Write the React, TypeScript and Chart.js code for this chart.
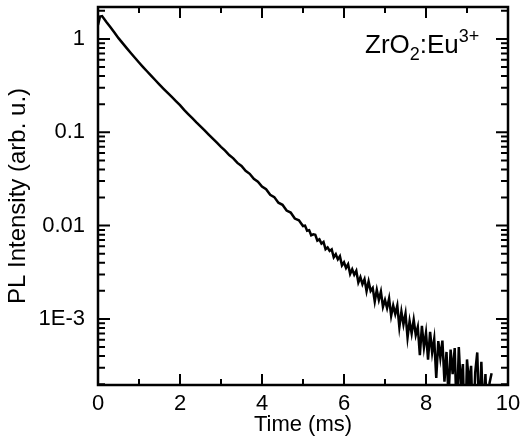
import React, { useEffect, useRef } from "react";
import { Chart, registerables } from "chart.js";

Chart.register(...registerables);

// ---- data ----
const timeMs = [
  0, 0.05, 0.1, 0.2, 0.3, 0.4, 0.5, 0.6, 0.7, 0.8,
  0.9, 1.0, 1.1, 1.2, 1.3, 1.4, 1.5, 1.6, 1.7, 1.8,
  1.9, 2.0, 2.1, 2.2, 2.3, 2.4, 2.5, 2.6, 2.7, 2.8,
  2.9, 3.0, 3.1, 3.2, 3.3, 3.4, 3.5, 3.6, 3.7, 3.8,
  3.9, 4.0, 4.1, 4.2, 4.3, 4.4, 4.5, 4.6, 4.7, 4.8,
  4.9, 5.0, 5.05, 5.1, 5.15, 5.2, 5.25, 5.3, 5.35, 5.4,
  5.45, 5.5, 5.55, 5.6, 5.65, 5.7, 5.75, 5.8, 5.85, 5.9,
  5.95, 6.0, 6.05, 6.1, 6.15, 6.2, 6.25, 6.3, 6.35, 6.4,
  6.45, 6.5, 6.55, 6.6, 6.65, 6.7, 6.75, 6.8, 6.85, 6.9,
  6.95, 7.0, 7.05, 7.1, 7.15, 7.2, 7.25, 7.3, 7.35, 7.4,
  7.45, 7.5, 7.55, 7.6, 7.65, 7.7, 7.75, 7.8, 7.85, 7.9,
  7.95, 8.0, 8.05, 8.1, 8.15, 8.2, 8.25, 8.3, 8.35, 8.4,
  8.45, 8.5, 8.55, 8.6, 8.65, 8.7, 8.75, 8.8, 8.85, 8.9,
  8.95, 9.0, 9.05, 9.1, 9.15, 9.2, 9.25, 9.3, 9.35, 9.4,
  9.45, 9.5, 9.55, 9.6,
];

const plIntensity = [
  1.41, 1.74, 1.76, 1.53, 1.34, 1.17, 1.02, 0.902, 0.797, 0.707,
  0.629, 0.560, 0.500, 0.448, 0.402, 0.361, 0.324, 0.292, 0.264, 0.239,
  0.216, 0.195, 0.174, 0.157, 0.142, 0.128, 0.116, 0.105, 0.0946, 0.0855,
  0.0773, 0.0698, 0.0637, 0.0571, 0.0526, 0.0470, 0.0435, 0.0386, 0.0359, 0.0317,
  0.0296, 0.0262, 0.0245, 0.0214, 0.0202, 0.0176, 0.0167, 0.0145, 0.0138, 0.0119,
  0.0114, 0.0099, 0.0100, 0.00883, 0.00894, 0.00787, 0.00806, 0.00798, 0.00690, 0.00712,
  0.00641, 0.00668, 0.00559, 0.00585, 0.00536, 0.00557, 0.00458, 0.00494, 0.00435, 0.00471,
  0.00375, 0.00405, 0.00352, 0.00386, 0.00304, 0.00341, 0.00298, 0.00328, 0.00246, 0.00280,
  0.00236, 0.00267, 0.00199, 0.00252, 0.00200, 0.00215, 0.00154, 0.00205, 0.00160, 0.00196,
  0.00135, 0.00160, 0.00131, 0.00166, 0.00108, 0.00139, 0.00113, 0.00139, 0.000818, 0.00120,
  0.000874, 0.00114, 0.000633, 0.000948, 0.000699, 0.000980, 0.000673, 0.000821, 0.000409, 0.000844,
  0.000496, 0.000709, 0.000367, 0.000726, 0.000436, 0.000611, 0.000234, 0.000579, 0.000383, 0.000587,
  0.000213, 0.000443, 0.000141, 0.000470, 0.000256, 0.000488, 0.0000873, 0.000500, 0.000186, 0.000329,
  0.0000482, 0.000368, 0.000198, 0.000314, 0.0000600, 0.000267, 0.000437, 0.0000865, 0.000347, 0.0000948,
  0.000257, 0.0000576, 0.000206, 0.000262,
];

const xMajorTicks = [0, 2, 4, 6, 8, 10];
const xTickLabels = ["0", "2", "4", "6", "8", "10"];
const xMinorTicks = [1, 3, 5, 7, 9];
const yMajorTicks = [1, 0.1, 0.01, 0.001];
const yTickLabels = ["1", "0.1", "0.01", "1E-3"];
const yMinorFactors = [2, 3, 4, 5, 6, 7, 8, 9];
const xRange = [0, 10];
const yRange = [1.96e-4, 2.2];
const xTitle = "Time (ms)";
const yTitle = "PL Intensity (arb. u.)";

const FONT = "'Liberation Sans', Arial, Helvetica, sans-serif";

const framePlugin = {
  id: "frameTicks",
  afterDatasetsDraw(chart: any) {
    const { ctx, chartArea: a, scales } = chart;
    const xs = scales.x;
    const ys = scales.y;
    ctx.save();
    ctx.strokeStyle = "#000";
    ctx.lineWidth = 2;
    ctx.beginPath();
    const xTick = (v: number, len: number) => {
      const p = xs.getPixelForValue(v);
      ctx.moveTo(p, a.bottom);
      ctx.lineTo(p, a.bottom - len);
      ctx.moveTo(p, a.top);
      ctx.lineTo(p, a.top + len);
    };
    const yTick = (v: number, len: number) => {
      const p = ys.getPixelForValue(v);
      if (p < a.top - 0.5 || p > a.bottom + 0.5) return;
      ctx.moveTo(a.left, p);
      ctx.lineTo(a.left + len, p);
      ctx.moveTo(a.right, p);
      ctx.lineTo(a.right - len, p);
    };
    xMajorTicks.forEach((v) => xTick(v, 11));
    xMinorTicks.forEach((v) => xTick(v, 6));
    yMajorTicks.forEach((v) => yTick(v, 12));
    const decades = [1e-4, 1e-3, 1e-2, 1e-1, 1];
    decades.forEach((d) => yMinorFactors.forEach((f) => yTick(d * f, 7)));
    ctx.stroke();
    ctx.lineWidth = 2.5;
    ctx.strokeRect(a.left, a.top, a.right - a.left, a.bottom - a.top);

    // annotation ZrO2:Eu3+
    let x = a.right - 143;
    const y = a.top + 46;
    ctx.fillStyle = "#000";
    ctx.textBaseline = "alphabetic";
    ctx.textAlign = "left";
    const big = `26px ${FONT}`;
    const small = `18px ${FONT}`;
    const put = (t: string, f: string, dy: number) => {
      ctx.font = f;
      ctx.fillText(t, x, y + dy);
      x += ctx.measureText(t).width;
    };
    put("ZrO", big, 0);
    put("2", small, 7);
    put(":Eu", big, 0);
    put("3+", small, -11);
    ctx.restore();
  },
};

export default function App() {
  const ref = useRef<HTMLCanvasElement | null>(null);
  useEffect(() => {
    if (!ref.current) return;
    const data = timeMs.map((t, i) => ({ x: t, y: plIntensity[i] }));
    const chart = new Chart(ref.current, {
      type: "line",
      data: {
        datasets: [
          {
            data,
            borderColor: "#000",
            borderWidth: 2.5,
            pointRadius: 0,
            tension: 0,
            fill: false,
          },
        ],
      },
      options: {
        animation: false,
        responsive: false,
        devicePixelRatio: 1,
        layout: { padding: { left: 0, top: 7, right: 14, bottom: 0 } },
        plugins: { legend: { display: false }, tooltip: { enabled: false } },
        scales: {
          x: {
            type: "linear",
            min: xRange[0],
            max: xRange[1],
            grid: { display: false, drawTicks: false, tickLength: 0 },
            border: { display: false },
            afterBuildTicks: (s: any) => {
              s.ticks = xMajorTicks.map((v) => ({ value: v }));
            },
            ticks: {
              autoSkip: false,
              maxRotation: 0,
              padding: 6,
              color: "#000",
              font: { family: FONT, size: 22 },
              callback: (v: any) => {
                const i = xMajorTicks.indexOf(Number(v));
                return i >= 0 ? xTickLabels[i] : "";
              },
            },
            title: {
              display: true,
              text: xTitle,
              color: "#000",
              font: { family: FONT, size: 22, lineHeight: 1.1 },
              padding: { top: 0, bottom: 0 },
            },
            afterFit: (s: any) => {
              s.height = 52;
              s.paddingLeft = 0;
              s.paddingRight = 0;
            },
          },
          y: {
            type: "logarithmic",
            min: yRange[0],
            max: yRange[1],
            bounds: "data",
            grid: { display: false, drawTicks: false, tickLength: 0 },
            border: { display: false },
            afterBuildTicks: (s: any) => {
              s.ticks = yMajorTicks.map((v) => ({ value: v }));
            },
            ticks: {
              autoSkip: false,
              padding: 13,
              color: "#000",
              font: { family: FONT, size: 22 },
              callback: (v: any) => {
                const i = yMajorTicks.findIndex((m) => Math.abs(m - Number(v)) / m < 1e-6);
                return i >= 0 ? yTickLabels[i] : "";
              },
            },
            title: {
              display: true,
              text: yTitle,
              color: "#000",
              font: { family: FONT, size: 24, lineHeight: 1.0 },
              padding: { top: 6, bottom: 0 },
            },
            afterFit: (s: any) => {
              s.width = 98;
              s.paddingTop = 0;
              s.paddingBottom = 0;
            },
          },
        },
      },
      plugins: [framePlugin],
    });
    return () => chart.destroy();
  }, []);

  return (
    <div style={{ position: "fixed", left: 0, top: 0, width: 522, height: 437, background: "#fff" }}>
      <canvas ref={ref} width={522} height={437} style={{ display: "block" }} />
    </div>
  );
}
